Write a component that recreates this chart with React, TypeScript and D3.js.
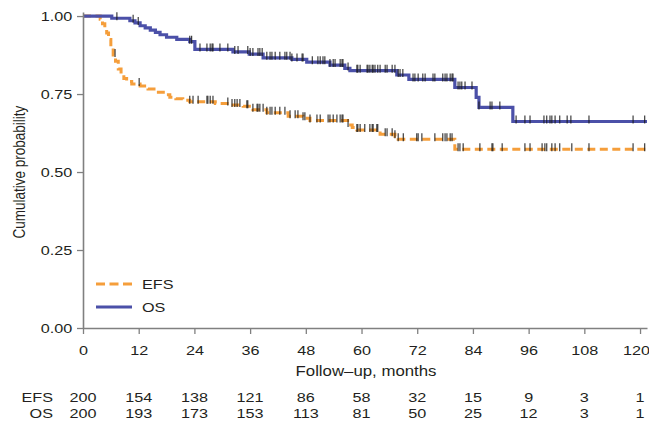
import React, { useEffect, useRef } from 'react';
import * as d3 from 'd3';

const width = 649;
const height = 425;
const orange = '#F59E3B';
const blue = '#4B50A8';
const axisGrey = '#808080';
const ink = '#231F20';
const font = '"Liberation Sans", Arial, sans-serif';
const stretch = 1.2; // the source picture is a little wider than tall

// Kaplan-Meier steps: [month, survival]
const efsSteps = [
  [0, 1], [3.7, 0.99], [4.2, 0.975], [4.7, 0.96], [5.1, 0.946], [5.5, 0.925], [6, 0.9],
  [6.5, 0.875], [7, 0.855], [7.6, 0.83], [8.2, 0.815], [8.8, 0.8], [9.4, 0.79],
  [10.5, 0.782], [12.3, 0.776], [14, 0.766], [15.9, 0.756], [17.3, 0.748], [18.7, 0.74],
  [20, 0.735], [21.5, 0.73], [23, 0.725], [28.5, 0.72], [31.8, 0.715], [34.5, 0.711],
  [36.6, 0.7], [39.6, 0.69], [44.2, 0.679], [47.4, 0.672], [48.9, 0.665], [57, 0.651],
  [58, 0.643], [59, 0.635], [64, 0.621], [67.2, 0.615], [67.9, 0.605], [80.1, 0.573],
];
const osSteps = [
  [0, 1], [6.2, 0.993], [10.1, 0.985], [11.2, 0.978], [12.3, 0.969], [13.4, 0.962],
  [14.5, 0.955], [15.6, 0.948], [16.6, 0.94], [18, 0.932], [20.2, 0.925], [23, 0.918],
  [24.1, 0.893], [32.3, 0.885], [35.8, 0.878], [38.8, 0.866], [45, 0.861], [48.2, 0.852],
  [53.2, 0.843], [56.4, 0.832], [57.5, 0.825], [67.6, 0.811], [70.2, 0.797], [80.1, 0.771],
  [84.7, 0.739], [85.3, 0.707], [92.6, 0.662],
];
const lastMonth = 121.5;

// censored observations (months)
const efsCensor = [
  6.9, 12.1, 23, 23.7, 24.8, 26.7, 26.9, 27.4, 28, 31.2, 32.1, 32.7, 33.2, 33.8, 35.3, 35.5,
  36.6, 37.5, 37.7, 38.1, 38.8, 39.6, 40.3, 40.7, 41.4, 42.4, 43.5, 44.6, 45.7, 46.3, 47.4,
  47.8, 48.9, 50.4, 51.1, 52.8, 53.2, 53.9, 54.7, 55.4, 55.8, 56, 57.1, 59, 59.2, 59.7, 60.7,
  61.8, 62.3, 62.5, 63.3, 63.5, 65.1, 65.5, 66.6, 67.2, 67.9, 69, 71.9, 72.2, 73, 75.8, 77.5,
  78, 78.4, 79.1, 79.5, 80.8, 81.2, 81.9, 85.5, 88.1, 88.3, 90.3, 95.2, 96.3, 98.9, 99.5,
  99.9, 101, 101.7, 102.7, 105.3, 109, 118.5, 121,
];
const osCensor = [
  7.3, 10.8, 11.9, 23, 23.4, 25.2, 26.7, 27.4, 27.8, 28, 29.5, 31.2, 32.7, 33.4, 35.5, 36,
  36.6, 37.7, 38.1, 38.6, 39.6, 40.3, 40.7, 41.4, 42.4, 43.5, 43.9, 44.6, 45, 46.1, 47.2,
  47.4, 49.4, 50.6, 51.1, 51.7, 52.1, 53.2, 53.9, 54.3, 55.4, 55.8, 56, 57.1, 59, 59.2, 59.7,
  61.2, 61.4, 61.8, 62.3, 62.5, 62.9, 63.5, 64, 65.1, 65.5, 66.6, 67.2, 67.9, 68.3, 68.9,
  71.1, 71.5, 72.2, 73.2, 73.7, 75.4, 75.8, 77.5, 78, 78.4, 79.1, 79.5, 79.7, 80.8, 81.2,
  81.6, 82.3, 83.8, 85.3, 87.7, 88.1, 89.8, 93.3, 95.2, 96.3, 99.3, 99.9, 100.6, 101,
  101.7, 102.7, 104.3, 105.1, 109, 118.5, 121,
];

const xTicks = [0, 12, 24, 36, 48, 60, 72, 84, 96, 108, 120];
const yTicks = [0, 0.25, 0.5, 0.75, 1];
const efsAtRisk = [200, 154, 138, 121, 86, 58, 32, 15, 9, 3, 1];
const osAtRisk = [200, 193, 173, 153, 113, 81, 50, 25, 12, 3, 1];

const x = d3.scaleLinear().domain([0, lastMonth]).range([83, 647]);
const y = d3.scaleLinear().domain([0, 1.013]).range([328, 12]);

const survAt = (steps, t) => {
  let s = 1;
  for (const [m, v] of steps) if (m <= t) s = v;
  return s;
};

const stepLine = d3.line().x(d => x(d[0])).y(d => y(d[1])).curve(d3.curveStepAfter);
const withEnd = steps => [...steps, [lastMonth, steps[steps.length - 1][1]]];

const SText = ({ x: tx, y: ty, anchor = 'start', size = 13.5, children }) => (
  <text transform={`translate(${tx},${ty}) scale(${stretch},1)`} textAnchor={anchor}
    fontSize={size} dy="0.35em" fill={ink} fontFamily={font}>{children}</text>
);

const App = () => {
  const xAxisRef = useRef(null);
  const yAxisRef = useRef(null);

  useEffect(() => {
    const xAxis = d3.axisBottom(x).tickValues(xTicks).tickSize(6).tickSizeOuter(0).tickPadding(11);
    const yAxis = d3.axisLeft(y).tickValues(yTicks).tickFormat(d3.format('.2f')).tickSize(6).tickSizeOuter(0).tickPadding(3);
    [[xAxisRef, xAxis], [yAxisRef, yAxis]].forEach(([ref, ax]) => {
      const g = d3.select(ref.current).call(ax);
      g.select('.domain').attr('stroke', axisGrey).attr('stroke-width', 1.6);
      g.selectAll('.tick line').attr('stroke', axisGrey).attr('stroke-width', 1.3);
      g.selectAll('.tick text').attr('fill', ink).attr('font-size', 13.5)
        .attr('font-family', font).attr('transform', `scale(${stretch},1)`);
    });
    // keep the last month label inside the frame
    d3.select(xAxisRef.current).selectAll('.tick text')
      .filter(d => d === 120).attr('transform', `translate(-4,0) scale(${stretch},1)`);
  }, []);

  const censorMarks = (times, steps) => times.map((t, i) => {
    const cy = y(survAt(steps, t));
    return <line key={i} x1={x(t)} x2={x(t)} y1={cy - 6} y2={cy + 2} stroke="#1a1a1a" strokeWidth={1.2} strokeOpacity={0.85} />;
  });

  return (
    <svg width={width} height={height} style={{ position: 'absolute', left: 0, top: 0, background: '#fff' }}>
      <path d={stepLine(withEnd(efsSteps))} fill="none" stroke={orange} strokeWidth={3} strokeDasharray="8,4.5" />
      <path d={stepLine(withEnd(osSteps))} fill="none" stroke={blue} strokeWidth={3.2} />
      {censorMarks(efsCensor, efsSteps)}
      {censorMarks(osCensor, osSteps)}

      <g ref={xAxisRef} transform={`translate(0,${y(0)})`} />
      <g ref={yAxisRef} transform={`translate(${x(0)},0)`} />

      <text transform={`translate(19,${y(0.5)}) scale(${stretch},1) rotate(-90)`} textAnchor="middle" dy="0.35em"
        fontSize={13.5} fill={ink} fontFamily={font}>Cumulative probability</text>
      <SText x={366} y={371} anchor="middle" size={14}>Follow–up, months</SText>

      {/* legend */}
      <line x1={96} x2={132} y1={284} y2={284} stroke={orange} strokeWidth={3} strokeDasharray="9,4.5" />
      <line x1={96} x2={132} y1={307} y2={307} stroke={blue} strokeWidth={3.2} />
      <SText x={142} y={284} size={13.5}>EFS</SText>
      <SText x={142} y={307} size={13.5}>OS</SText>

      {/* numbers at risk */}
      <SText x={53} y={397} anchor="end">EFS</SText>
      <SText x={53} y={413} anchor="end">OS</SText>
      {xTicks.map((t, i) => (
        <React.Fragment key={t}>
          <SText x={x(t)} y={397} anchor="middle">{efsAtRisk[i]}</SText>
          <SText x={x(t)} y={413} anchor="middle">{osAtRisk[i]}</SText>
        </React.Fragment>
      ))}
    </svg>
  );
};

export default App;
